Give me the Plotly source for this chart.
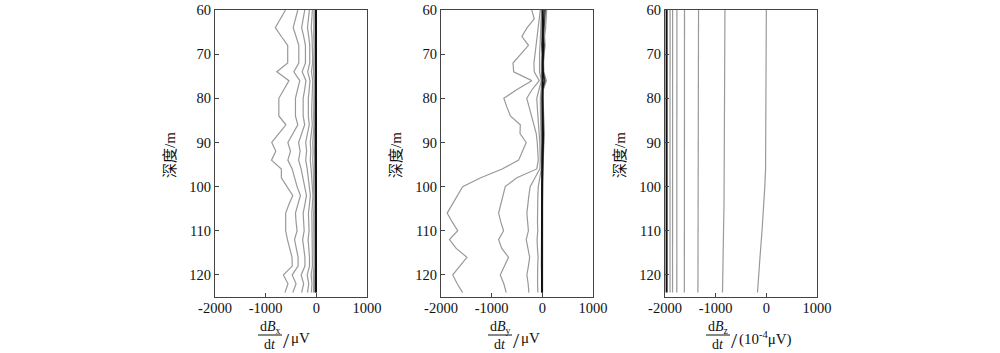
import plotly.graph_objects as go

# ---------------- data ----------------
depth = [60, 62, 64, 66, 68, 70, 72, 74, 76, 78, 80, 82, 84, 86, 88, 90, 92,
         94, 96, 98, 100, 102, 104, 106, 108, 110, 112, 114, 116, 118, 120, 122, 124]

# dBx/dt (uV)
bx_1 = [-608, -710, -810, -690, -565, -565, -565, -780, -540, -640, -740, -740, -740, -600, -740, -880, -800,
        -885, -690, -690, -580, -465, -540, -605, -605, -605, -570, -520, -480, -475, -650, -560, -620]
bx_2 = [-366, -410, -457, -400, -346, -346, -346, -444, -327, -370, -412, -412, -412, -366, -460, -562, -510,
        -562, -477, -430, -380, -314, -360, -412, -400, -380, -430, -390, -360, -360, -477, -400, -464]
bx_3 = [-229, -260, -290, -250, -215, -215, -215, -280, -205, -230, -260, -260, -260, -230, -290, -350, -320,
        -350, -300, -270, -235, -195, -225, -260, -250, -240, -270, -245, -225, -225, -300, -250, -290]
bx_4 = [-137, -155, -175, -150, -130, -130, -130, -170, -125, -140, -158, -158, -158, -140, -175, -210, -192,
        -210, -180, -162, -142, -118, -135, -156, -150, -144, -162, -147, -135, -135, -180, -150, -174]
bx_5 = [-78, -88, -100, -86, -74, -74, -74, -97, -71, -80, -90, -90, -90, -80, -100, -120, -109,
        -120, -103, -92, -81, -67, -77, -89, -86, -82, -92, -84, -77, -77, -103, -86, -99]
bx_6 = [-46, -52, -59, -51, -44, -44, -44, -57, -42, -47, -53, -53, -53, -47, -59, -71, -64,
        -71, -61, -54, -48, -40, -45, -52, -51, -48, -54, -50, -45, -45, -61, -51, -58]
bx_7 = [-26, -29, -33, -29, -25, -25, -25, -32, -24, -27, -30, -30, -30, -27, -33, -40, -36,
        -40, -34, -31, -27, -22, -26, -30, -29, -27, -31, -28, -26, -26, -34, -29, -33]
bx_8 = [-14, -15, -17, -15, -13, -13, -13, -16, -12, -14, -15, -15, -15, -14, -17, -20, -18,
        -20, -17, -16, -14, -11, -13, -15, -15, -14, -16, -14, -13, -13, -17, -15, -17]
bx_9 = [-6, -6, -7, -6, -6, -6, -6, -7, -5, -6, -6, -6, -6, -6, -7, -8, -7,
        -8, -7, -7, -6, -5, -6, -6, -6, -6, -7, -6, -6, -6, -7, -6, -7]

# dBy/dt (uV)
by_1 = [-208, -160, -300, -403, -273, -430, -579, -566, -208, -500, -760, -700, -630, -435, -440, -318, -390,
        -468, -793, -1215, -1573, -1680, -1780, -1878, -1780, -1670, -1833, -1700, -1488, -1630, -1768, -1680, -1573]
by_2 = [-40, -60, -90, -110, -120, -150, -165, -160, -60, -200, -307, -260, -210, -160, -120, -100, -90,
        -80, -110, -503, -732, -780, -830, -863, -820, -765, -863, -800, -667, -750, -830, -760, -713]
by_3 = [-15, -20, -30, -40, -45, -55, -60, -55, -20, -70, -110, -100, -85, -70, -60, -50, -45,
        -40, -50, -140, -240, -265, -290, -305, -290, -275, -318, -290, -250, -275, -305, -280, -265]
by_4 = [-5, -8, -12, -15, -18, -20, -22, -20, -5, -28, -40, -38, -33, -28, -24, -20, -18,
        -16, -20, -50, -80, -88, -95, -100, -96, -90, -104, -96, -84, -92, -100, -94, -88]
by_5 = [85, 80, 65, 45, 55, 35, 25, 30, 80, 20, 12, 20, 28, 32, 40, 32, 22,
        15, 10, 8, 8, 6, 6, 5, 5, 5, 5, 5, 5, 5, 5, 5, 5]
by_6 = [60, 50, 40, 25, 38, 22, 15, 20, 55, 10, 8, 14, 20, 22, 30, 22, 14,
        10, 5, 2, 0, 0, -2, -2, -2, -2, -2, -2, -2, -2, -2, -2, -2]
by_7 = [35, 30, 20, 12, 25, 12, 8, 15, 35, 5, 4, 8, 14, 12, 20, 14, 8,
        6, 2, 0, -2, -2, -4, -4, -4, -4, -6, -4, -4, -4, -6, -4, -4]
by_8 = [5, 8, 2, 6, 0, 10, 4, 8, 12, 2, -4, 0, 4, 2, 6, 2, -2,
        0, -4, -6, -8, -8, -10, -10, -12, -10, -12, -10, -10, -12, -10, -12, -10]

# dBz/dt (1e-4 uV)
depth_z = [60, 70, 80, 90, 96, 100, 104, 110, 116, 120, 124]
bz_1 = [0, -2, -5, -10, -15, -30, -50, -85, -125, -150, -175]
bz_2 = [-817, -818, -820, -823, -826, -830, -835, -845, -855, -860, -865]
bz_3 = [-1338, -1338, -1339, -1340, -1341, -1342, -1343, -1345, -1347, -1348, -1350]
bz_4 = [-1615, -1615, -1615, -1616, -1616, -1616, -1617, -1617, -1618, -1618, -1618]
bz_5 = [-1765, -1765, -1765, -1765, -1766, -1766, -1766, -1766, -1767, -1767, -1767]
bz_6 = [-1850, -1850, -1850, -1850, -1850, -1851, -1851, -1851, -1851, -1851, -1851]
bz_7 = [-1900, -1900, -1900, -1900, -1900, -1900, -1900, -1901, -1901, -1901, -1901]
bz_8 = [-1968, -1968, -1968, -1968, -1968, -1968, -1968, -1968, -1968, -1968, -1968]

x_ticks = [-2000, -1000, 0, 1000]
x_ticktext = ["-2000", "-1000", "0", "1000"]
y_ticks = [60, 70, 80, 90, 100, 110, 120]
y_title = "深度/m"

# ---------------- styling ----------------
GRAY = "#999999"
DARK = "#555555"
BLACK = "#111111"
FONT = "Liberation Serif, Noto Sans CJK SC, serif"

panels = [
    ("x", "y", depth, [bx_1, bx_2, bx_3, bx_4, bx_5, bx_6, bx_7, bx_8, bx_9],
     [GRAY] * 7 + [DARK, BLACK], [1.2] * 7 + [1.3, 2.0]),
    ("x2", "y2", depth, [by_1, by_2, by_3, by_4, by_5, by_6, by_7, by_8],
     [GRAY, GRAY, GRAY, GRAY, GRAY, DARK, BLACK, BLACK], [1.2, 1.2, 1.2, 1.2, 1.2, 1.3, 1.3, 1.7]),
    ("x3", "y3", depth_z, [bz_1, bz_2, bz_3, bz_4, bz_5, bz_6, bz_7, bz_8],
     [GRAY] * 7 + [BLACK], [1.2] * 7 + [2.0]),
]

fig = go.Figure()
for xa, ya, dep, series, cols, wids in panels:
    for vals, c, w in zip(series, cols, wids):
        fig.add_trace(go.Scatter(x=vals, y=dep, mode="lines", xaxis=xa, yaxis=ya,
                                 line=dict(color=c, width=w), showlegend=False,
                                 hoverinfo="skip"))

W, H = 1000, 353
left_px = [215, 441, 665]
panel_w = 152
top_px, bot_px = 10, 297


def px(xp, yp):
    return xp / W, 1 - yp / H


axis_common = dict(showline=True, linecolor="#444444", linewidth=1, mirror=True,
                   ticks="inside", ticklen=4, tickcolor="#444444", tickwidth=1,
                   showgrid=False, zeroline=False, automargin=False,
                   ticklabeloverflow="allow",
                   tickfont=dict(family=FONT, size=14.5, color="#111111"))

layout = dict(width=W, height=H, margin=dict(l=0, r=0, t=0, b=0, autoexpand=False),
              paper_bgcolor="white", plot_bgcolor="white", showlegend=False,
              hovermode=False)
for i, lp in enumerate(left_px):
    sfx = "" if i == 0 else str(i + 1)
    x0, y_top = px(lp, top_px)
    x1, y_bot = px(lp + panel_w, bot_px)
    layout["xaxis" + sfx] = dict(domain=[x0, x1], range=[-2000, 1000],
                                 tickvals=x_ticks, ticktext=x_ticktext,
                                 ticklabelstandoff=-2,
                                 anchor="y" + sfx, **axis_common)
    layout["yaxis" + sfx] = dict(domain=[y_bot, y_top], range=[125, 60],
                                 tickvals=y_ticks, anchor="x" + sfx, **axis_common)
fig.update_layout(**layout)

# ---------------- titles ----------------
ann = []
for lp in left_px:
    x, y = px(lp - 45, 155)
    ann.append(dict(x=x, y=y, text=y_title, textangle=-90, showarrow=False,
                    xref="paper", yref="paper", xanchor="center", yanchor="middle",
                    font=dict(family=FONT, size=15, color="#111111")))

x_titles = [
    (270, "d<i>B</i><sub>x</sub>", 286, "μV", 300),
    (500, "d<i>B</i><sub>y</sub>", 516, "μV", 530),
    (718, "d<i>B</i><sub>z</sub>", 734, "(10<sup>-4</sup>μV)", 765),
]
shapes = []
for cx, num, sx, unit, ux in x_titles:
    x, y = px(cx, 327)
    ann.append(dict(x=x, y=y, text=num, showarrow=False, xref="paper", yref="paper",
                    xanchor="center", yanchor="middle",
                    font=dict(family=FONT, size=14, color="#111111")))
    x, y = px(cx, 344)
    ann.append(dict(x=x, y=y, text="d<i>t</i>", showarrow=False, xref="paper", yref="paper",
                    xanchor="center", yanchor="middle",
                    font=dict(family=FONT, size=14, color="#111111")))
    x0, yl = px(cx - 12, 335)
    x1, _ = px(cx + 12, 335)
    shapes.append(dict(type="line", xref="paper", yref="paper", x0=x0, x1=x1, y0=yl, y1=yl,
                       line=dict(color="#111111", width=1)))
    x, y = px(sx, 340)
    ann.append(dict(x=x, y=y, text="/", showarrow=False, xref="paper", yref="paper",
                    xanchor="center", yanchor="middle",
                    font=dict(family=FONT, size=22, color="#111111")))
    x, y = px(ux, 338)
    ann.append(dict(x=x, y=y, text=unit, showarrow=False, xref="paper", yref="paper",
                    xanchor="center", yanchor="middle",
                    font=dict(family=FONT, size=15, color="#111111")))

fig.update_layout(annotations=ann, shapes=shapes)
# remove the default 8 px body margin so the figure sits at the window's top-left corner
fig.write_html("out.html", config={"displayModeBar": False, "staticPlot": True},
               post_script="document.body.style.margin='0';")
